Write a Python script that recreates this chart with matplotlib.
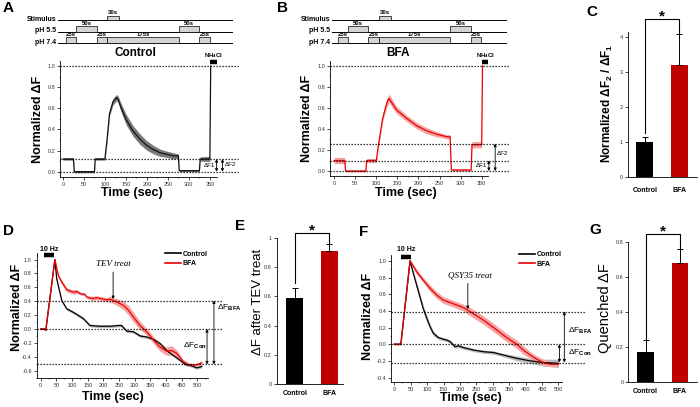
"""Multi-panel figure: pHluorin traces (A, B, D, F) and summary bars (C, E, G)."""
import matplotlib
matplotlib.use("Agg")
import matplotlib.pyplot as plt
import numpy as np
from matplotlib.patches import Rectangle
from matplotlib.ticker import FuncFormatter, MultipleLocator

plt.rcParams["font.family"] = ["Liberation Sans", "DejaVu Sans"]
plt.rcParams["mathtext.fontset"] = "custom"
plt.rcParams["mathtext.rm"] = "Liberation Sans"
plt.rcParams["mathtext.bf"] = "Liberation Sans:bold"
plt.rcParams["mathtext.it"] = "Liberation Sans:italic"

W, H = 700, 407

# ---- protocol schematic (row, start s, duration s) ----
proto_rows = ["Stimulus", "pH 5.5", "pH 7.4"]
proto_start = [100, 25, 275, 0, 75, 100, 325]
proto_dur = [30, 50, 50, 25, 25, 175, 25]
proto_row = [0, 1, 1, 2, 2, 2, 2]

# ---- panel A: control, acid quench protocol ----
a_t = [0, 25, 27, 75, 77, 100, 105, 111, 119, 127, 131, 139, 151, 167, 183,
       199, 215, 231, 247, 263, 275, 277, 325, 327, 350, 352]
a_y = [0.12, 0.12, 0.0, 0.0, 0.12, 0.12, 0.30, 0.55, 0.66, 0.70, 0.69, 0.60,
       0.49, 0.385, 0.31, 0.25, 0.21, 0.18, 0.165, 0.15, 0.148, 0.01, 0.01,
       0.12, 0.12, 1.0]
a_err = [0.01, 0.01, 0.01, 0.01, 0.01, 0.01, 0.02, 0.02, 0.03, 0.03, 0.03,
         0.04, 0.05, 0.05, 0.05, 0.045, 0.04, 0.035, 0.03, 0.03, 0.02, 0.01,
         0.01, 0.02, 0.025, 0.0]
a_levels = [1.0, 0.12, 0.0]

# ---- panel B: BFA ----
b_t = [0, 25, 27, 75, 77, 100, 105, 115, 125, 130, 148, 172, 196, 219, 243,
       267, 275, 278, 325, 327, 350, 352]
b_y = [0.10, 0.10, 0.0, 0.0, 0.10, 0.10, 0.25, 0.50, 0.65, 0.69, 0.58, 0.50,
       0.43, 0.383, 0.35, 0.326, 0.326, 0.01, 0.01, 0.25, 0.25, 1.0]
b_err = [0.03, 0.03, 0.01, 0.01, 0.02, 0.02, 0.03, 0.03, 0.04, 0.04, 0.035,
         0.03, 0.03, 0.03, 0.025, 0.02, 0.02, 0.01, 0.01, 0.03, 0.03, 0.0]
b_levels = [1.0, 0.26, 0.10, 0.0]

# ---- panel C ----
bar_groups = ["Control", "BFA"]
c_vals = [1.0, 3.2]
c_err = [0.13, 0.87]

# ---- panel D: TEV treat ----
dc_t = [0, 12, 16, 45, 51, 67, 83, 104, 136, 157, 189, 221, 248, 258, 274,
        296, 317, 338, 360, 381, 402, 423, 445, 461, 482, 498, 514]
dc_y = [0.0, 0.0, -0.02, 1.0, 0.72, 0.41, 0.29, 0.24, 0.15, 0.05, 0.04, 0.04,
        0.05, 0.05, -0.03, -0.04, -0.10, -0.115, -0.15, -0.21, -0.31, -0.38,
        -0.45, -0.51, -0.53, -0.56, -0.54]
dc_err = [0.005] * 4 + [0.02] * 23
dr_t = [0, 12, 16, 45, 56, 67, 83, 104, 115, 126, 140, 147, 163, 179, 190,
        200, 210, 221, 230, 243, 264, 280, 296, 317, 338, 360, 381, 402, 418,
        434, 455, 471, 493, 514]
dr_y = [0.0, 0.0, -0.02, 1.0, 0.77, 0.675, 0.565, 0.53, 0.54, 0.51, 0.50,
        0.46, 0.44, 0.45, 0.44, 0.43, 0.42, 0.43, 0.41, 0.39, 0.34, 0.27, 0.17,
        0.05, -0.04, -0.16, -0.26, -0.32, -0.31, -0.35, -0.47, -0.51, -0.52,
        -0.49]
dr_err = [0.01, 0.01, 0.01, 0.02, 0.03, 0.03, 0.03, 0.03, 0.03, 0.02, 0.02,
          0.02, 0.03, 0.03, 0.03, 0.03, 0.03, 0.04, 0.04, 0.05, 0.06, 0.07,
          0.07, 0.06, 0.05, 0.05, 0.06, 0.06, 0.07, 0.05, 0.03, 0.02, 0.02,
          0.03]
d_levels = [0.41, 0.0, -0.51]

# ---- panel E ----
e_vals = [0.59, 0.91]
e_err = [0.07, 0.05]

# ---- panel F: QSY35 treat ----
fc_t = [0, 20, 48, 58, 68, 78, 88, 99, 109, 119, 134, 149, 160, 170, 185, 195,
        210, 241, 271, 302, 332, 373, 414, 454, 500]
fc_y = [0.0, 0.0, 1.0, 0.85, 0.71, 0.57, 0.43, 0.31, 0.21, 0.13, 0.08, 0.06,
        0.05, 0.03, -0.03, -0.02, -0.04, -0.07, -0.09, -0.10, -0.13, -0.17,
        -0.20, -0.22, -0.23]
fc_err = [0.01, 0.01, 0.02, 0.03, 0.04, 0.04, 0.04, 0.04, 0.03, 0.03, 0.02,
          0.02, 0.02, 0.02, 0.02, 0.02, 0.02, 0.02, 0.02, 0.02, 0.02, 0.03,
          0.03, 0.04, 0.05]
fr_t = [0, 20, 48, 68, 88, 109, 129, 149, 170, 190, 210, 231, 251, 271, 292,
        312, 332, 353, 373, 393, 414, 434, 454, 475, 500]
fr_y = [0.0, 0.0, 1.0, 0.87, 0.77, 0.67, 0.59, 0.53, 0.50, 0.47, 0.44, 0.39,
        0.34, 0.29, 0.23, 0.17, 0.11, 0.05, 0.0, -0.07, -0.13, -0.18, -0.22,
        -0.24, -0.24]
fr_err = [0.01, 0.01, 0.02, 0.03, 0.03, 0.04, 0.04, 0.04, 0.04, 0.04, 0.04,
          0.05, 0.05, 0.05, 0.05, 0.05, 0.05, 0.05, 0.05, 0.05, 0.04, 0.04,
          0.04, 0.03, 0.03]
f_levels = [0.39, 0.0, -0.22]

# ---- panel G ----
g_vals = [0.17, 0.68]
g_err = [0.07, 0.08]

RED = "#ee0000"
PINK = "#f5a3a3"
DARKRED = "#c00000"
TICK_COLOR = "#333333"
DOTS = (0, (1, 1.4))


def px_box(left, top, right, bottom):
    """Axes rectangle from pixel edges of the 700x407 canvas."""
    return [left / W, 1 - bottom / H, (right - left) / W, (bottom - top) / H]


def fxy(x, y):
    return x / W, 1 - y / H


def style_trace_axes(ax, xstep, ystep, xlim, ylim):
    for side in ("top", "right"):
        ax.spines[side].set_visible(False)
    for side in ("left", "bottom"):
        ax.spines[side].set_linewidth(0.6)
    ax.set_xlim(*xlim)
    ax.set_ylim(*ylim)
    ax.xaxis.set_major_locator(MultipleLocator(xstep))
    ax.xaxis.set_minor_locator(MultipleLocator(xstep / 2))
    ax.yaxis.set_major_locator(MultipleLocator(ystep))
    ax.yaxis.set_minor_locator(MultipleLocator(ystep / 2))
    ax.yaxis.set_major_formatter(FuncFormatter(lambda v, _: f"{v:.1f}"))
    ax.tick_params(which="major", length=2, width=0.5, pad=1.5,
                   labelsize=4, labelcolor=TICK_COLOR)
    ax.tick_params(which="minor", length=1, width=0.4)


def set_labels(ax, xlabel, ylabel, xpos, ypos, size=9):
    ax.set_xlabel(xlabel, fontsize=size, fontweight="bold")
    ax.set_ylabel(ylabel, fontsize=size, fontweight="bold")
    ax.xaxis.label.set_va("center")
    ax.yaxis.label.set_va("center")
    ax.xaxis.set_label_coords(*xpos)
    ax.yaxis.set_label_coords(*ypos)


def plot_trace(ax, t, y, err, color, band, label=None):
    t, y, err = np.asarray(t), np.asarray(y), np.asarray(err)
    ax.fill_between(t, y - err, y + err, color=band, lw=0, zorder=1)
    return ax.plot(t, y, color=color, lw=0.9, zorder=2, label=label)[0]


def dotted_levels(ax, levels, x_end):
    for lev in levels:
        ax.plot([ax.get_xlim()[0], x_end], [lev, lev], color="k", lw=0.9,
                ls=DOTS, clip_on=False, zorder=3)


def double_arrow(ax, x, y0, y1):
    ax.annotate("", xy=(x, y1), xytext=(x, y0), annotation_clip=False,
                arrowprops=dict(arrowstyle="<|-|>", lw=0.6, color="k",
                                mutation_scale=4, shrinkA=0, shrinkB=0))


def draw_protocol(ax, t_left, t_right):
    ax.set_xlim(t_left, t_right)
    ax.set_ylim(-2.26, 0.87)
    ax.axis("off")
    for i, name in enumerate(proto_rows):
        ax.axhline(-i, color="k", lw=0.7, zorder=1)
        ax.text(-0.01, -i + 0.05, name, transform=ax.get_yaxis_transform(),
                ha="right", va="center", fontsize=5, fontweight="bold")
    for row, start, dur in zip(proto_row, proto_start, proto_dur):
        h = 0.38 if row == 0 else 0.5
        ax.add_patch(Rectangle((start, -row), dur, h, facecolor="#d4d4d4",
                               edgecolor="k", lw=0.5, zorder=2))
        ax.text(start + dur / 2, -row + h + 0.02, f"{dur}s", ha="center",
                va="bottom", fontsize=4.3, fontweight="bold", zorder=3)


def nh4cl_marker(ax, t0, t1):
    ax.plot([t0, t1], [1.04, 1.04], color="k", lw=3.2,
            solid_capstyle="butt", clip_on=False)
    ax.text((t0 + t1) / 2, 1.1, r"NH$_\mathbf{4}$Cl", ha="center",
            va="center", fontsize=4.3, fontweight="bold")


def stim_marker(ax, t0, t1, y):
    ax.plot([t0, t1], [y, y], color="k", lw=3.2, solid_capstyle="butt",
            clip_on=False)
    ax.text((t0 + t1) / 2, y + 0.08, "10 Hz", ha="center", va="center",
            fontsize=5, fontweight="bold")


def draw_bars(ax, vals, errs, ymax, ystep, xlim, bracket, drops, pad):
    x = np.arange(len(vals))
    ax.bar(x, vals, width=0.49, color=["black", DARKRED], zorder=2)
    ax.errorbar(x, vals, yerr=[np.zeros(len(errs)), errs], fmt="none",
                ecolor="k", elinewidth=0.7, capsize=2, capthick=0.7, zorder=3)
    ax.set_xlim(*xlim)
    ax.set_ylim(0, ymax)
    for side in ("top", "right"):
        ax.spines[side].set_visible(False)
    for side in ("left", "bottom"):
        ax.spines[side].set_linewidth(0.6)
    ax.set_xticks(x)
    ax.set_xticklabels(bar_groups, fontsize=5, fontweight="bold")
    ax.tick_params(axis="x", length=0, pad=pad)
    ax.yaxis.set_major_locator(MultipleLocator(ystep))
    ax.yaxis.set_major_formatter(FuncFormatter(lambda v, _: f"{v:g}"))
    ax.tick_params(axis="y", length=2, width=0.5, pad=1.5, labelsize=4,
                   labelcolor=TICK_COLOR)
    ax.plot([x[0], x[0], x[1], x[1]], [drops[0], bracket, bracket, drops[1]],
            color="k", lw=0.8, clip_on=False)
    ax.annotate("*", xy=(x.mean(), bracket), xytext=(0, -1),
                textcoords="offset points", ha="center", va="baseline",
                fontsize=11, fontweight="bold", annotation_clip=False)


fig = plt.figure(figsize=(7, 4.07), dpi=100)

# panel letters and titles
for letter, (px, py) in zip("ABCDEFG", [(8, 8), (283, 8), (592, 12),
                                        (8, 231), (240, 226), (364, 232),
                                        (595, 230)]):
    fig.text(*fxy(px, py), letter, ha="center", va="center", fontsize=11,
             fontweight="bold")
fig.text(*fxy(135, 53), "Control", ha="center", va="center", fontsize=8.5,
         fontweight="bold")
fig.text(*fxy(398, 53), "BFA", ha="center", va="center", fontsize=8.5,
         fontweight="bold")

# ---- A ----
draw_protocol(fig.add_axes(px_box(58, 10, 233, 46)), -19.5, 407)
axA = fig.add_axes(px_box(60, 61, 217, 177))
style_trace_axes(axA, 50, 0.2, (-7, 367), (-0.05, 1.047))
plot_trace(axA, a_t, a_y, a_err, "#111111", "#7a7a7a")
dotted_levels(axA, a_levels, 418)
double_arrow(axA, 366, 0.0, a_levels[1])
double_arrow(axA, 380, 0.0, a_levels[1])
axA.text(362, 0.06, "ΔF1", ha="right", va="center", fontsize=4.5)
axA.text(385, 0.065, "ΔF2", ha="left", va="center", fontsize=4.5)
nh4cl_marker(axA, 350, 366)
set_labels(axA, "Time (sec)", "Normalized ΔF", (0.46, -0.14), (-0.14, 0.5))

# ---- B ----
draw_protocol(fig.add_axes(px_box(332, 10, 507, 46)), -14, 413)
axB = fig.add_axes(px_box(330, 61, 488, 176))
style_trace_axes(axB, 50, 0.2, (-10, 365), (-0.047, 1.045))
plot_trace(axB, b_t, b_y, b_err, RED, PINK)
dotted_levels(axB, b_levels, 418)
double_arrow(axB, 367, 0.0, b_levels[2])
double_arrow(axB, 382, 0.0, b_levels[1])
axB.text(363, 0.05, "ΔF1", ha="right", va="center", fontsize=4.5)
axB.text(386, 0.17, "ΔF2", ha="left", va="center", fontsize=4.5)
nh4cl_marker(axB, 350, 366)
set_labels(axB, "Time (sec)", "Normalized ΔF", (0.48, -0.15), (-0.145, 0.5))

# ---- C ----
axC = fig.add_axes(px_box(628, 32, 697, 177))
draw_bars(axC, c_vals, c_err, 4.14, 1, (-0.49, 1.51), 4.5, (1.26, 4.1), 7)
axC.set_ylabel(r"Normalized ΔF$_\mathbf{2}$ / ΔF$_\mathbf{1}$", fontsize=8.5,
               fontweight="bold")
axC.yaxis.label.set_va("center")
axC.yaxis.set_label_coords((607 - 628) / 69, (177 - 103) / 145)

# ---- D ----
axD = fig.add_axes(px_box(36.7, 253.3, 208.3, 378.3))
style_trace_axes(axD, 50, 0.2, (-13, 535), (-0.71, 1.09))
hc = plot_trace(axD, dc_t, dc_y, dc_err, "black", "#bdbdbd", "Control")
hr = plot_trace(axD, dr_t, dr_y, dr_err, RED, PINK, "BFA")
dotted_levels(axD, d_levels, 578)
double_arrow(axD, 553, d_levels[2], d_levels[0])
double_arrow(axD, 531, d_levels[2], d_levels[1])
axD.text(563, 0.31, r"ΔF$_\mathbf{BFA}$", ha="left", va="center", fontsize=6)
axD.text(454, -0.245, r"ΔF$_\mathbf{Con}$", ha="left", va="center",
         fontsize=6)
stim_marker(axD, 11, 43, 1.065)
axD.text(231, 0.93, "TEV treat", ha="center", va="center", fontsize=6.5,
         family="Liberation Serif", style="italic")
axD.annotate("", xy=(231, 0.43), xytext=(231, 0.82),
             arrowprops=dict(arrowstyle="-|>", lw=0.6, color="k",
                             mutation_scale=4, shrinkA=0, shrinkB=0))
legD = axD.legend([hc, hr], ["Control", "BFA"], loc="upper left",
                  bbox_to_anchor=(0.748, 1.02), frameon=False,
                  prop=dict(size=5, weight="bold"), handlelength=2.3,
                  handletextpad=0.2, borderpad=0, borderaxespad=0,
                  labelspacing=0.35)
for line in legD.get_lines():
    line.set_linewidth(1.2)
set_labels(axD, "Time (sec)", "Normalized ΔF", ((113 - 36.7) / 171.6, -0.146),
           ((16.7 - 36.7) / 171.6, (378.3 - 307) / 125))

# ---- E ----
axE = fig.add_axes(px_box(276.7, 237.7, 343, 384.3))
draw_bars(axE, e_vals, e_err, 1.0, 0.2, (-0.53, 1.40), 1.03, (0.69, 0.96), 4)
axE.set_ylabel("ΔF after TEV treat", fontsize=9.5)
axE.yaxis.label.set_va("center")
axE.yaxis.set_label_coords((258 - 276.7) / 66.3, (384.3 - 301.7) / 146.6)

# ---- F ----
axF = fig.add_axes(px_box(391, 255, 561.7, 381.7))
style_trace_axes(axF, 50, 0.2, (-10, 510), (-0.45, 1.07))
hc = plot_trace(axF, fc_t, fc_y, fc_err, "black", "#bdbdbd", "Control")
hr = plot_trace(axF, fr_t, fr_y, fr_err, RED, PINK, "BFA")
dotted_levels(axF, f_levels, 581)
double_arrow(axF, 518, f_levels[2], f_levels[0])
double_arrow(axF, 503, f_levels[2], f_levels[1])
axF.text(530, 0.16, r"ΔF$_\mathbf{BFA}$", ha="left", va="center", fontsize=6)
axF.text(530, -0.105, r"ΔF$_\mathbf{Con}$", ha="left", va="center",
         fontsize=6)
stim_marker(axF, 20, 51, 1.05)
axF.text(231, 0.83, "QSY35 treat", ha="center", va="center", fontsize=6.5,
         family="Liberation Serif", style="italic")
axF.annotate("", xy=(224, 0.42), xytext=(224, 0.73),
             arrowprops=dict(arrowstyle="-|>", lw=0.6, color="k",
                             mutation_scale=4, shrinkA=0, shrinkB=0))
legF = axF.legend([hc, hr], ["Control", "BFA"], loc="upper left",
                  bbox_to_anchor=(0.75, 1.03), frameon=False,
                  prop=dict(size=5, weight="bold"), handlelength=2.3,
                  handletextpad=0.2, borderpad=0, borderaxespad=0,
                  labelspacing=0.35)
for line in legF.get_lines():
    line.set_linewidth(1.2)
set_labels(axF, "Time (sec)", "Normalized ΔF", ((471 - 391) / 170.7, -0.13),
           ((368 - 391) / 170.7, (381.7 - 316.7) / 126.7))

# ---- G ----
axG = fig.add_axes(px_box(628.3, 241.7, 696.7, 382.3))
draw_bars(axG, g_vals, g_err, 0.8, 0.2, (-0.51, 1.49), 0.844, (0.245, 0.76), 4)
axG.set_ylabel("Quenched ΔF", fontsize=10.5)
axG.yaxis.label.set_va("center")
axG.yaxis.set_label_coords((605 - 628.3) / 68.4, (382.3 - 308) / 140.6)

fig.savefig("out.png", dpi=100)
